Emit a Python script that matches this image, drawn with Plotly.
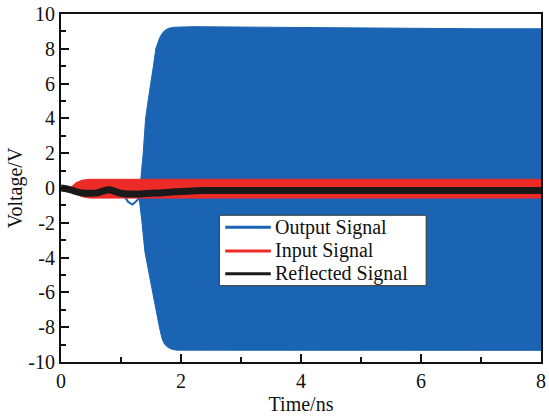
import plotly.graph_objects as go

# Output signal envelope (dense oscillation drawn as envelope band)
out_t_up = [1.30, 1.33, 1.37, 1.41, 1.46, 1.50, 1.54, 1.58, 1.61, 1.64, 1.68, 1.72, 1.77, 1.82, 1.90, 2.0, 2.2, 3.0, 4.0, 5.0, 6.0, 7.0, 8.0]
out_v_up = [0.3, 0.5, 2.0, 4.0, 5.2, 6.0, 7.0, 8.0, 8.35, 8.6, 8.85, 9.02, 9.14, 9.2, 9.24, 9.26, 9.27, 9.25, 9.22, 9.2, 9.18, 9.15, 9.15]
out_t_lo = [1.30, 1.35, 1.40, 1.48, 1.56, 1.60, 1.64, 1.68, 1.72, 1.78, 1.84, 1.92, 2.2, 3.0, 4.0, 5.0, 6.0, 7.0, 8.0]
out_v_lo = [-0.5, -2.0, -3.7, -5.0, -6.5, -7.3, -8.0, -8.6, -8.95, -9.15, -9.26, -9.32, -9.35, -9.35, -9.34, -9.33, -9.33, -9.33, -9.33]
# early part of output signal (before oscillation builds up)
out_t_early = [1.00, 1.06, 1.12, 1.19, 1.24, 1.29, 1.33]
out_v_early = [-0.3, -0.5, -0.8, -0.95, -0.8, -0.6, -0.5]

# Input signal envelope
in_t = [0.15, 0.25, 0.35, 0.48, 1.0, 2.0, 4.0, 6.0, 8.0]
in_v_up = [0.0, 0.3, 0.45, 0.5, 0.5, 0.5, 0.5, 0.5, 0.5]
in_v_lo = [0.0, -0.35, -0.5, -0.58, -0.58, -0.58, -0.58, -0.58, -0.58]

# Reflected signal
ref_t = [0, 0.1, 0.2, 0.3, 0.4, 0.5, 0.6, 0.7, 0.8, 0.9, 1.0, 1.1, 1.2, 1.3, 1.4, 1.5, 1.7, 1.9, 2.1, 2.4, 3, 4, 5, 6, 7, 8]
ref_v = [0, -0.05, -0.15, -0.25, -0.3, -0.3, -0.28, -0.18, -0.1, -0.2, -0.3, -0.35, -0.35, -0.35, -0.32, -0.3,
         -0.27, -0.22, -0.18, -0.15, -0.15, -0.15, -0.14, -0.14, -0.14, -0.14]

series_names = ["Output Signal", "Input Signal", "Reflected Signal"]

x_ticks = [0, 2, 4, 6, 8]
x_labels = ["0", "2", "4", "6", "8"]
y_ticks = [-10, -8, -6, -4, -2, 0, 2, 4, 6, 8, 10]
y_labels = ["-10", "-8", "-6", "-4", "-2", "0", "2", "4", "6", "8", "10"]

BLUE = "#1b63b3"
RED = "#ec2a26"
BLACK = "#1a1a1a"
FONT = "Liberation Serif"
colors = [BLUE, RED, BLACK]

W, H = 549, 420
ML, MR, MT, MB = 61, 3, 11, 58
PW, PH = W - ML - MR, H - MT - MB


def px(X):
    return (X - ML) / PW


def py(Y):
    return (H - MB - Y) / PH


fig = go.Figure()

# Output band
fig.add_trace(go.Scatter(
    x=out_t_up + out_t_lo[::-1], y=out_v_up + out_v_lo[::-1],
    fill="toself", fillcolor=BLUE, mode="lines", line=dict(color=BLUE, width=1),
    showlegend=False, hoverinfo="skip"))
fig.add_trace(go.Scatter(x=out_t_early, y=out_v_early, mode="lines",
                         line=dict(color=BLUE, width=2), showlegend=False))
# Input band
fig.add_trace(go.Scatter(
    x=in_t + in_t[::-1], y=in_v_up + in_v_lo[::-1],
    fill="toself", fillcolor=RED, mode="lines", line=dict(color=RED, width=1),
    showlegend=False, hoverinfo="skip"))
# Reflected
fig.add_trace(go.Scatter(x=ref_t, y=ref_v, mode="lines",
                         line=dict(color=BLACK, width=7, shape="spline"), showlegend=False))

# Manual legend (box, sample lines, labels)
shapes = [dict(type="rect", xref="paper", yref="paper",
               x0=px(221), x1=px(430), y0=py(285), y1=py(214),
               fillcolor="white", line=dict(color="#333", width=1), layer="above")]
annotations = []
row_y = [226, 250, 273]
for name, c, ry in zip(series_names, colors, row_y):
    shapes.append(dict(type="line", xref="paper", yref="paper",
                       x0=px(227), x1=px(273), y0=py(ry), y1=py(ry),
                       line=dict(color=c, width=3), layer="above"))
    annotations.append(dict(xref="paper", yref="paper", x=px(275), y=py(ry),
                            xanchor="left", yanchor="middle", showarrow=False,
                            text=name, font=dict(family=FONT, size=20, color="#111")))

axis_common = dict(
    showgrid=False, zeroline=False, showline=True, linecolor="#111", linewidth=2, mirror=True,
    ticks="inside", ticklen=8, tickwidth=2, tickcolor="#111",
    tickfont=dict(family=FONT, size=20, color="#111"),
)
fig.update_xaxes(range=[0, 8], tickvals=x_ticks, ticktext=x_labels,
                 minor=dict(ticks="inside", ticklen=5, tickwidth=1.5, dtick=1, tickcolor="#111"),
                 title=dict(text="Time/ns", font=dict(family=FONT, size=20, color="#111"), standoff=6),
                 **axis_common)
fig.update_yaxes(range=[-10, 10], tickvals=y_ticks, ticktext=y_labels,
                 minor=dict(ticks="inside", ticklen=5, tickwidth=1.5, dtick=1, tickcolor="#111"),
                 title=dict(text="Voltage/V", font=dict(family=FONT, size=20, color="#111"), standoff=0),
                 **axis_common)

fig.update_layout(
    width=W, height=H,
    margin=dict(l=ML, r=MR, t=MT, b=MB),
    paper_bgcolor="white", plot_bgcolor="white",
    showlegend=False,
    shapes=shapes, annotations=annotations,
)

fig.write_html("out.html")
